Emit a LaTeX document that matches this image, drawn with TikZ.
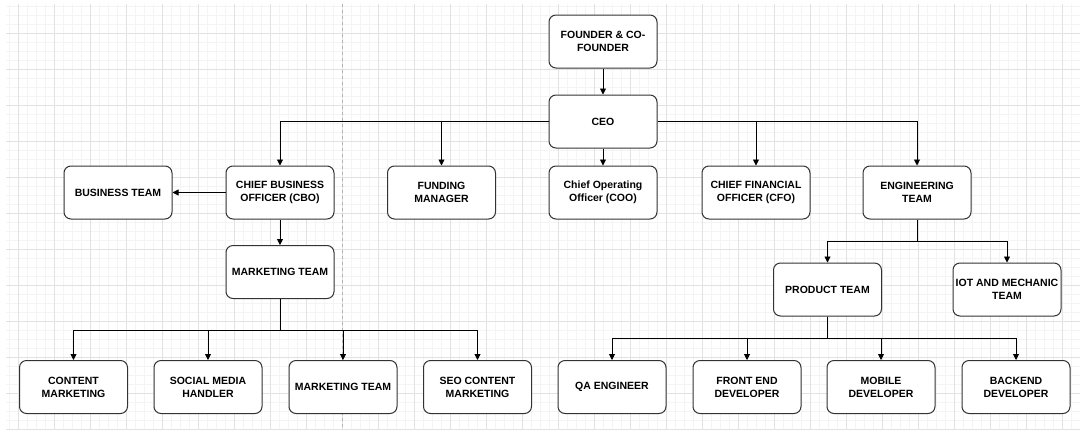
\documentclass[tikz,border=0pt]{standalone}
\usepackage{fontspec}
\setmainfont{Liberation Sans}
\usetikzlibrary{arrows.meta}

\definecolor{minorgrid}{HTML}{F4F4F4}
\definecolor{majorgrid}{HTML}{E2E2E2}
\definecolor{boxline}{HTML}{333333}

\tikzset{
    role/.style={draw=boxline, line width=1pt, rounded corners=7pt, fill=white,
        minimum width=108pt, minimum height=53pt, inner xsep=1pt, align=center,
        font=\bfseries\fontsize{10.5}{13}\selectfont, text=black},
    link/.style={draw=black, line width=0.9pt,
        -{Triangle[length=6pt,width=6pt]}},
}

\begin{document}
\begin{tikzpicture}[x=1pt, y=-1pt]
    \useasboundingbox (0,0) rectangle (1080,429);
    \fill[white] (0,0) rectangle (1080,429);

    % grid
    \foreach \i in {0,...,119}
        \draw[minorgrid, line width=0.8pt] ({9.3+9*\i},4) -- ({9.3+9*\i},429);
    \foreach \i in {0,...,47}
        \draw[minorgrid, line width=0.8pt] (6,{6.3+9*\i}) -- (1080,{6.3+9*\i});
    \foreach \i in {0,...,29}
        \draw[majorgrid, line width=0.8pt] ({18.3+36*\i},4) -- ({18.3+36*\i},429);
    \foreach \i in {0,...,11}
        \draw[majorgrid, line width=0.8pt] (6,{33.3+36*\i}) -- (1080,{33.3+36*\i});
    \draw[gray!60, dashed, line width=0.8pt] (342.7,4) -- (342.7,429);

    \node[role] (founder) at (603, 41.5) {FOUNDER \& CO-\\FOUNDER};
    \node[role] (ceo) at (603, 121.5) {CEO};

    \node[role] (biz)  at (118, 192.5)   {BUSINESS TEAM};
    \node[role] (cbo)  at (280, 192.5)   {CHIEF BUSINESS\\OFFICER (CBO)};
    \node[role] (fund) at (441.5, 192.5) {FUNDING\\MANAGER};
    \node[role] (coo)  at (603, 192.5)   {Chief Operating\\Officer (COO)};
    \node[role] (cfo)  at (756, 192.5)   {CHIEF FINANCIAL\\OFFICER (CFO)};
    \node[role] (eng)  at (917, 192.5)   {ENGINEERING\\TEAM};

    \node[role] (mkt)  at (280, 272)     {MARKETING TEAM};
    \node[role] (prod) at (827.5, 289.5) {PRODUCT TEAM};
    \node[role] (iot)  at (1007, 289.5)  {IOT AND MECHANIC\\TEAM};

    \node[role] (cm)  at (73.5, 387)  {CONTENT\\MARKETING};
    \node[role] (smh) at (208, 387)   {SOCIAL MEDIA\\HANDLER};
    \node[role] (mt)  at (343, 387)   {MARKETING TEAM};
    \node[role] (seo) at (477.5, 387) {SEO CONTENT\\MARKETING};
    \node[role] (qa)  at (612, 387)   {QA ENGINEER};
    \node[role] (fe)  at (747, 387)   {FRONT END\\DEVELOPER};
    \node[role] (mob) at (881, 387)   {MOBILE\\DEVELOPER};
    \node[role] (be)  at (1016, 387)  {BACKEND\\DEVELOPER};

    \coordinate (engbus) at (0, 241);
    \coordinate (mktbus) at (0, 330);
    \coordinate (prodbus) at (0, 338);

    \draw[link] (founder) -- (ceo);
    \draw[link] (ceo.west) -| (cbo.north);
    \draw[link] (ceo.west) -| (fund.north);
    \draw[link] (ceo) -- (coo);
    \draw[link] (ceo.east) -| (cfo.north);
    \draw[link] (ceo.east) -| (eng.north);

    \draw[link] (cbo) -- (biz);
    \draw[link] (cbo) -- (mkt);

    \foreach \n in {cm, smh, mt, seo}
        \draw[link] (mkt.south) -- (mkt.south |- mktbus) -| (\n.north);
    \foreach \n in {prod, iot}
        \draw[link] (eng.south) -- (eng.south |- engbus) -| (\n.north);
    \foreach \n in {qa, fe, mob, be}
        \draw[link] (prod.south) -- (prod.south |- prodbus) -| (\n.north);

\end{tikzpicture}
\end{document}
